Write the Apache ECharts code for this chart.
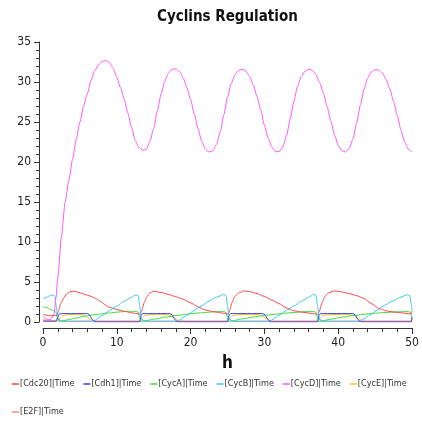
<!DOCTYPE html>
<html><head><meta charset="utf-8">
<script src="https://cdn.jsdelivr.net/npm/echarts@6/dist/echarts.min.js"></script>
<style>html,body{margin:0;padding:0;background:#fff}#c{width:422px;height:424px}</style>
</head><body><div id="c"></div>
<script>
const seriesNames = ['[Cdc20]|Time','[Cdh1]|Time','[CycA]|Time','[CycB]|Time','[CycD]|Time','[CycE]|Time','[E2F]|Time'];
const xTicks = [0,10,20,30,40,50];
const yTicks = [0,5,10,15,20,25,30,35];

const cdc20T = [0,0.5,1.0,1.5,1.9,2.1,2.4,2.8,3.2,3.6,4.0,4.5,5.0,5.5,6.0,6.5,7.0,7.5,8.0,8.5,9.0,9.5,10.0,10.5,11.0,11.5,12.0,12.5,13.0,13.2,13.4,13.7,14.1,14.5,15.0,16,17,18,19,20,21,22,23,24,24.8,25.1,25.3,25.6,26.0,26.5,27.2,28,29,30,31,32,33,34,35,36,37,37.3,37.5,37.8,38.2,38.7,39.5,40.5,41.5,42.5,43.5,44.5,45.5,46.5,47.5,48.5,49.5,49.9,50];
const cdc20V = [0.95,0.85,0.8,0.8,0.85,1.4,2.3,3.0,3.5,3.75,3.84,3.8,3.65,3.5,3.35,3.2,3.0,2.75,2.45,2.1,1.85,1.7,1.55,1.45,1.35,1.25,1.15,1.08,1.0,0.95,1.5,2.4,3.2,3.65,3.84,3.7,3.45,3.15,2.85,2.4,1.9,1.5,1.3,1.15,1.05,1.0,1.5,2.4,3.2,3.65,3.88,3.8,3.55,3.2,2.75,2.3,1.75,1.4,1.25,1.12,1.0,0.95,1.5,2.4,3.2,3.65,3.88,3.75,3.55,3.3,2.95,2.3,1.7,1.4,1.25,1.15,1.05,1.0,1.4];

const cdh1T = [0,1.8,2.0,2.2,2.5,6.0,6.3,6.6,6.9,7.2,13.1,13.3,13.5,17.2,17.5,17.8,18.1,18.4,25.0,25.2,25.4,29.8,30.1,30.4,30.7,31.0,37.2,37.4,37.6,42.0,42.3,42.6,42.9,43.2,49.9,50];
const cdh1V = [0.1,0.1,0.6,1.0,1.05,1.05,0.9,0.4,0.1,0.02,0.02,0.8,1.05,1.05,0.9,0.4,0.1,0.02,0.02,0.8,1.05,1.05,0.9,0.4,0.1,0.02,0.02,0.8,1.05,1.05,0.9,0.4,0.1,0.02,0.02,0.6];

const cycAT = [0,0.5,1.0,1.5,1.8,2.0,2.2,2.5,3.5,4.5,5.5,6.5,7.5,8.5,9.5,10.5,11.5,12.5,12.9,13.1,13.3,13.6,15,16.5,18,19.5,21,22.5,23.5,24.5,24.8,25.0,25.2,25.5,27,28.5,30,31.5,33,34.5,35.5,36.7,37.0,37.2,37.4,37.7,39,40.5,42,43.5,45,46.5,48,49.5,49.8,50];
const cycAV = [1.9,1.8,1.6,1.4,1.2,0.4,0.05,0.1,0.3,0.5,0.7,0.85,0.97,1.08,1.18,1.27,1.33,1.33,1.25,0.5,0.05,0.1,0.35,0.6,0.8,0.98,1.12,1.23,1.3,1.3,1.2,0.5,0.05,0.1,0.4,0.62,0.82,0.98,1.12,1.22,1.3,1.3,1.2,0.5,0.05,0.1,0.35,0.6,0.8,0.97,1.1,1.2,1.27,1.3,1.2,0.4];

const cycBT = [0,0.5,1.0,1.4,1.6,1.8,2.0,2.2,2.5,3,6.5,7.0,8,9,10,11,12,12.6,12.9,13.1,13.3,13.5,14,18,18.5,19.5,20.5,21.5,22.5,23.5,24.5,24.8,25.0,25.2,25.4,26,30.5,31,32,33,34,35,36,36.7,37.0,37.2,37.4,37.6,38,42.8,43.3,44.3,45.3,46.3,47.3,48.3,49.3,49.7,49.9,50];
const cycBV = [2.9,3.1,3.3,3.4,3.2,2.0,0.6,0.2,0.1,0.05,0.05,0.2,0.8,1.4,2.0,2.6,3.1,3.4,3.3,2.0,0.6,0.15,0.05,0.05,0.25,0.85,1.45,2.05,2.6,3.1,3.45,3.3,2.0,0.6,0.15,0.05,0.05,0.25,0.85,1.45,2.0,2.6,3.1,3.45,3.3,2.0,0.6,0.15,0.05,0.05,0.3,0.9,1.5,2.1,2.6,3.05,3.4,3.3,2.2,1.4];

const cycDT = [0,0.5,1.0,1.5,1.75,2.0,2.5,3.0,3.5,4.0,4.5,5.0,5.5,6.0,6.5,7.0,7.5,8.0,8.5,9.0,9.5,10.0,10.5,11.0,11.5,12.0,12.5,13.0,13.5,14.0,14.5,15.0,15.5,16.0,16.5,17.0,17.5,18.0,18.5,19.0,19.5,20.0,20.5,21.0,21.5,22.0,22.5,23.0,23.5,24.0,24.5,25.0,25.5,26.0,26.5,27.0,27.5,28.0,28.5,29.0,29.5,30.0,30.5,31.0,31.5,32.0,32.5,33.0,33.5,34.0,34.5,35.0,35.5,36.0,36.5,37.0,37.5,38.0,38.5,39.0,39.5,40.0,40.5,41.0,41.5,42.0,42.5,43.0,43.5,44.0,44.5,45.0,45.5,46.0,46.5,47.0,47.5,48.0,48.5,49.0,49.5,50.0];
const cycDV = [0.7,0.35,0.3,1.0,3.0,5.5,10.7,15.0,17.7,20.3,22.8,25.0,27.0,28.5,30.2,31.4,32.1,32.55,32.7,32.45,31.7,30.6,29.3,27.9,26.1,24.3,22.7,21.8,21.45,21.6,22.6,24.2,26.4,28.5,30.1,31.1,31.6,31.65,31.3,30.5,29.3,27.8,26.0,24.2,22.6,21.6,21.25,21.4,22.2,23.7,25.9,28.1,29.8,30.9,31.45,31.6,31.35,30.7,29.6,28.2,26.5,24.6,23.0,21.9,21.3,21.3,21.9,23.3,25.4,27.6,29.5,30.7,31.35,31.6,31.45,30.9,29.9,28.6,26.9,25.1,23.4,22.1,21.4,21.25,21.7,22.9,24.9,27.1,29.1,30.5,31.25,31.55,31.5,31.1,30.3,29.1,27.6,25.8,24.0,22.5,21.6,21.25];

const cycET = [0,1.0,1.8,2.0,2.3,2.7,3.2,4,5,5.5,6.0,6.5,7.0,8,13.1,13.4,13.8,14.5,16,17,17.5,18,18.5,19.5,25.0,25.3,25.7,26.4,28,29.3,29.8,30.3,30.8,31.5,37.2,37.5,37.9,38.6,40.5,41.8,42.3,42.8,43.3,44,49.9,50];
const cycEV = [0.3,0.2,0.15,0.1,0.5,0.8,0.9,0.95,0.95,0.85,0.6,0.3,0.1,0.05,0.05,0.5,0.8,0.92,0.95,0.9,0.7,0.4,0.15,0.05,0.05,0.5,0.8,0.92,0.95,0.9,0.7,0.4,0.15,0.05,0.05,0.5,0.8,0.92,0.95,0.9,0.7,0.4,0.15,0.05,0.05,0.4];

const e2fT = [0,1.0,1.8,2.0,2.3,3,13.1,13.3,13.6,14.3,25.0,25.2,25.5,26.2,37.2,37.4,37.7,38.4,49.9,50];
const e2fV = [0.2,0.15,0.12,0.5,0.2,0.12,0.12,0.5,0.2,0.12,0.12,0.5,0.2,0.12,0.12,0.5,0.2,0.12,0.12,0.4];

const colors = ['#ff4444','#3a3aff','#3fdc3f','#3cc8f4','#ff55ff','#ffc21a','#ff8585'];
const tArr = [cdc20T,cdh1T,cycAT,cycBT,cycDT,cycET,e2fT];
const vArr = [cdc20V,cdh1V,cycAV,cycBV,cycDV,cycEV,e2fV];
const drawOrder = [6,5,2,0,3,1,4];

const FONT = "'DejaVu Sans Condensed','DejaVu Sans',sans-serif";
const chart = echarts.init(document.getElementById('c'), null, {renderer:'canvas'});
const series = drawOrder.map(i=>({
  name:seriesNames[i], type:'line', showSymbol:false, smooth:0.2, smoothMonotone:'x',
  lineStyle:{width:1,color:colors[i]}, itemStyle:{color:colors[i]},
  data: tArr[i].map((t,j)=>[t,vArr[i][j]])
}));
chart.setOption({
  animation:false,
  title:{text:'Cyclins Regulation',left:157,top:10,padding:0,
    textStyle:{fontFamily:FONT,fontWeight:'bold',fontSize:15,color:'#111'}},
  grid:{left:43,right:10,top:42,bottom:102,containLabel:false},
  legend:{data:seriesNames,left:12,top:374.5,width:412,itemGap:9,itemWidth:7,itemHeight:1.5,icon:'rect',padding:0,
    textStyle:{fontFamily:FONT,fontSize:9,color:'#333',lineHeight:19,padding:[0,0,0,-4]}},
  xAxis:{type:'value',min:0,max:50,interval:10,offset:6,
    name:'h',nameLocation:'middle',nameGap:27,
    nameTextStyle:{fontFamily:FONT,fontWeight:'bold',fontSize:17,color:'#111'},
    axisLine:{onZero:false,lineStyle:{color:'#333',width:1}},
    axisTick:{length:6,lineStyle:{color:'#333'}},
    minorTick:{show:true,splitNumber:5,length:4,lineStyle:{color:'#333'}},
    splitLine:{show:false},
    axisLabel:{fontFamily:FONT,fontSize:12,color:'#222',margin:9}},
  yAxis:{type:'value',min:0,max:35,interval:5,offset:4,
    axisLine:{show:true,onZero:false,lineStyle:{color:'#333',width:1}},
    axisTick:{show:true,length:5,lineStyle:{color:'#333'}},
    minorTick:{show:true,splitNumber:5,length:3,lineStyle:{color:'#333'}},
    splitLine:{show:false},
    axisLabel:{fontFamily:FONT,fontSize:12,color:'#222',margin:8}},
  series:series
});
</script></body></html>
